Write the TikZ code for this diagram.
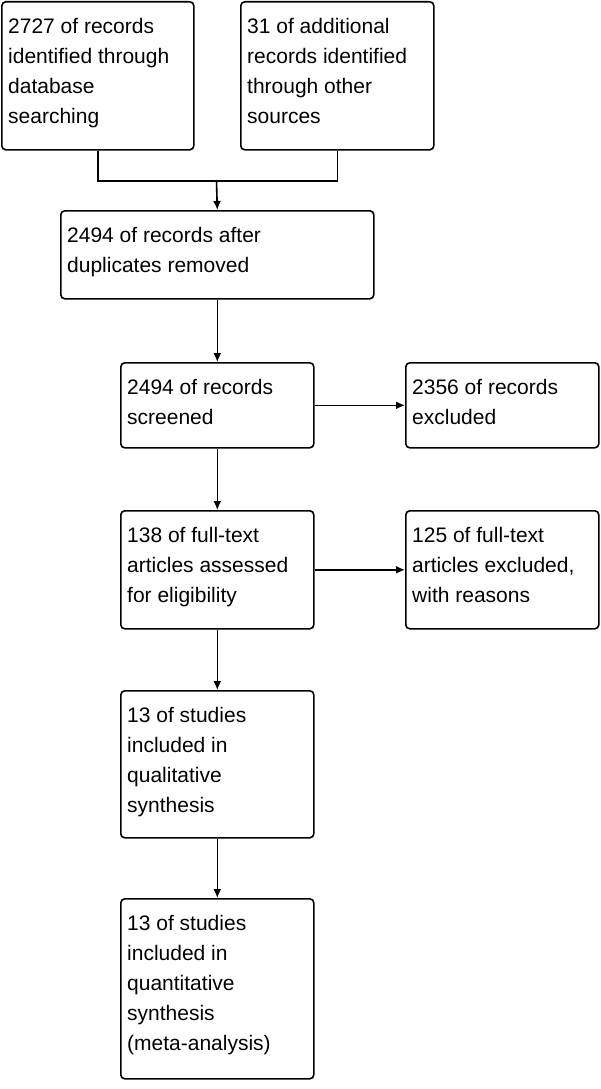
\documentclass[tikz,border=0pt]{standalone}
\usepackage{fontspec}
\setmainfont{Liberation Sans}
\usetikzlibrary{arrows.meta}

\begin{document}
\begin{tikzpicture}[x=1pt, y=-1pt,
  box/.style={draw, line width=1.6pt, rounded corners=4pt, anchor=north west, inner sep=0pt},
  txt/.style={anchor=north west, align=left, inner xsep=7pt, inner ysep=17pt, font=\fontsize{21}{30}\selectfont},
  arr/.style={-{Latex[length=9pt,width=8pt]}, line width=1.6pt}]

\useasboundingbox (0,0) rectangle (600,1089);

% identification
\node[box, minimum width=192pt, minimum height=148pt, label={[txt]north west:{2727 of records\\identified through\\database\\searching}}] (recdb) at (1,1) {};
\node[box, minimum width=193pt, minimum height=148pt, label={[txt]north west:{31 of additional\\records identified\\through other\\sources}}] (recother) at (240,1) {};

% screening
\node[box, minimum width=313pt, minimum height=88pt, label={[txt]north west:{2494 of records after\\duplicates removed}}] (dedup) at (60,210) {};
\node[box, minimum width=193pt, minimum height=85pt, label={[txt]north west:{2494 of records\\screened}}] (screened) at (120,362) {};
\node[box, minimum width=193pt, minimum height=85pt, label={[txt]north west:{2356 of records\\excluded}}] (exclscreen) at (405,362) {};

% eligibility
\node[box, minimum width=193pt, minimum height=118pt, label={[txt]north west:{138 of full-text\\articles assessed\\for eligibility}}] (fulltext) at (120,510) {};
\node[box, minimum width=193pt, minimum height=118pt, label={[txt]north west:{125 of full-text\\articles excluded,\\with reasons}}] (exclfull) at (405,510) {};

% included
\node[box, minimum width=193pt, minimum height=147pt, label={[txt]north west:{13 of studies\\included in\\qualitative\\synthesis}}] (qual) at (120,690) {};
\node[box, minimum width=193pt, minimum height=180pt, label={[txt]north west:{13 of studies\\included in\\quantitative\\synthesis\\(meta-analysis)}}] (quant) at (120,898) {};

% connectors
\coordinate (join) at (216.5,181);
\draw[line width=1.6pt] (recdb.south) |- (join) -| (recother.south);
\draw[arr] (join) -- (dedup.north);
\draw[arr] (dedup) -- (screened);
\draw[arr] (screened) -- (exclscreen);
\draw[arr] (screened) -- (fulltext);
\draw[arr] (fulltext) -- (exclfull);
\draw[arr] (fulltext) -- (qual);
\draw[arr] (qual) -- (quant);

\end{tikzpicture}
\end{document}
